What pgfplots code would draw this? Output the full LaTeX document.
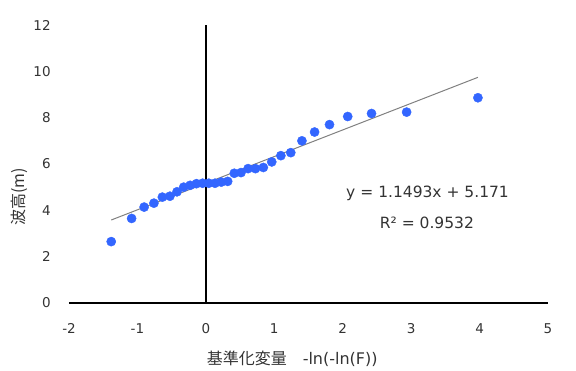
\documentclass[border=0pt]{standalone}
\usepackage{pgfplots}
\pgfplotsset{compat=1.18}
\usepackage{fontspec}
\setmainfont{DejaVu Sans}
\newfontfamily\cjk{Noto Sans CJK JP}
\definecolor{ptblue}{RGB}{51,102,255}
\definecolor{trend}{RGB}{128,128,128}
\begin{document}
\begin{tikzpicture}
\path[use as bounding box] (-69pt,-67pt) rectangle (507pt,303pt);
\begin{axis}[
  at={(0,0)}, anchor=south west,
  scale only axis, width=479pt, height=278pt,
  xmin=-2, xmax=5, ymin=0, ymax=12,
  xtick={-2,-1,0,1,2,3,4,5},
  ytick={0,2,4,6,8,10,12},
  axis lines=left,
  x axis line style={-, line width=1.4pt, black},
  y axis line style={draw=none},
  tick style={draw=none},
  /pgf/number format/assume math mode=true,
  ticklabel style={font=\fontsize{13.5}{16}\selectfont, text=black!80},
  xticklabel style={anchor=north, inner sep=0pt, yshift=-18pt},
  yticklabel style={anchor=east, inner sep=0pt, xshift=-16pt},
  xlabel={\cjk 基準化変量\hspace{1em}\fontspec{DejaVu Sans}-ln(-ln(F))},
  ylabel={\cjk 波高(m)},
  xlabel style={at={(rel axis cs:0.466,0)}, anchor=center, yshift=-56pt, font=\fontsize{16}{19}\selectfont, text=black!80},
  ylabel style={at={(rel axis cs:0,0.381)}, anchor=center, yshift=50pt, font=\fontsize{16}{19}\selectfont, text=black!80},
  clip=false,
]
\draw[line width=1.4pt, black] (axis cs:0,0) -- (axis cs:0,12);
\addplot[only marks, mark=*, mark size=4.6pt, mark options={draw=ptblue, fill=ptblue}] coordinates {
(-1.383,2.65) (-1.085,3.65) (-0.902,4.14) (-0.759,4.31) (-0.636,4.57)
(-0.525,4.61) (-0.422,4.80) (-0.324,5.00) (-0.230,5.08) (-0.138,5.15)
(-0.047,5.17) (0.043,5.17) (0.134,5.17) (0.226,5.22) (0.319,5.25)
(0.415,5.60) (0.514,5.63) (0.617,5.80) (0.725,5.80) (0.840,5.85)
(0.963,6.09) (1.096,6.36) (1.241,6.49) (1.404,7.00) (1.589,7.38)
(1.807,7.70) (2.073,8.05) (2.421,8.18) (2.934,8.24) (3.976,8.86)
};
\addplot[trend, line width=1pt, no marks] coordinates {(-1.383,3.582) (3.976,9.741)};
\node[font=\fontsize{15.5}{18}\selectfont, text=black!80] at (axis cs:3.24,4.75) {y = 1.1493x + 5.171};
\node[font=\fontsize{15.5}{18}\selectfont, text=black!80] at (axis cs:3.23,3.45) {R² = 0.9532};
\end{axis}
\end{tikzpicture}
\end{document}
